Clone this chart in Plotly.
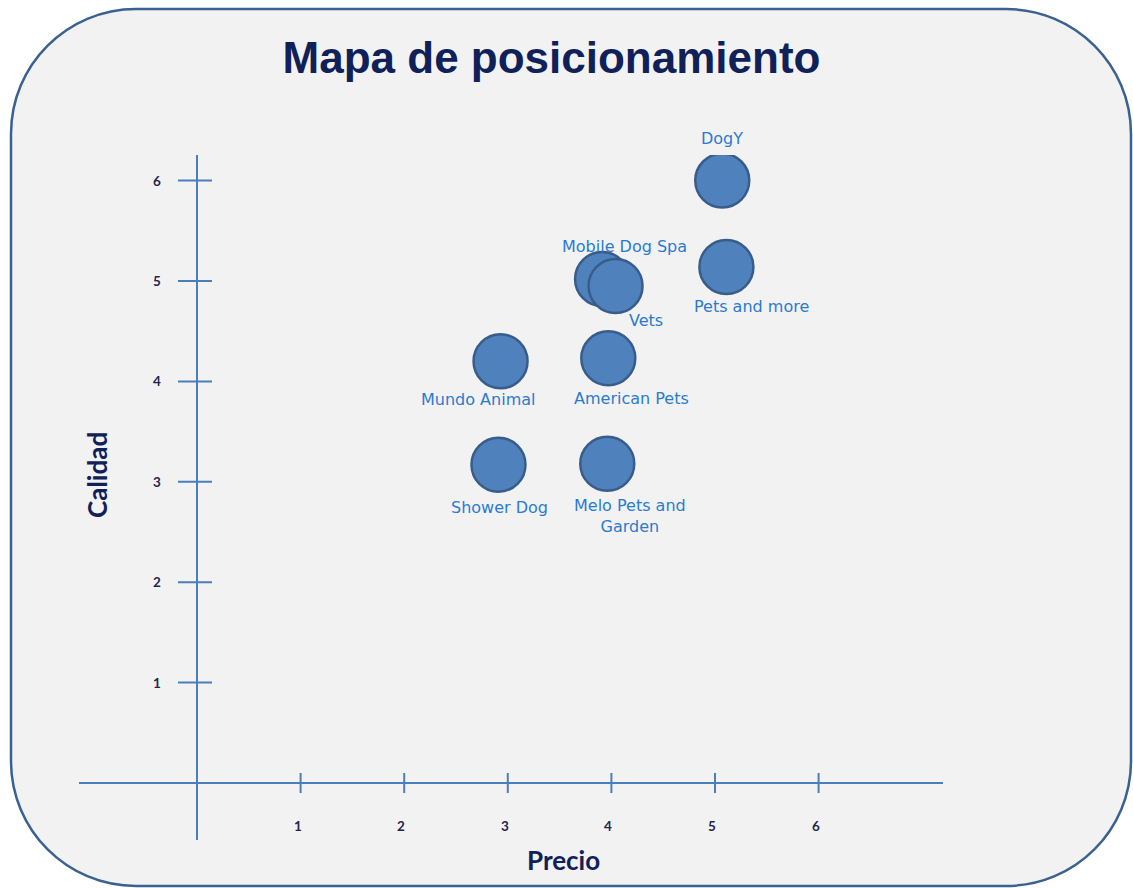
import plotly.graph_objects as go

# ---------------- data ----------------
marcas = ["DogY", "Pets and more", "Mobile Dog Spa", "Vets", "American Pets",
          "Mundo Animal", "Shower Dog", "Melo Pets and<br>Garden"]
precio = [5.07, 5.11, 3.91, 4.04, 3.97, 2.93, 2.91, 3.96]
calidad = [6.0, 5.14, 5.02, 4.95, 4.23, 4.20, 3.17, 3.18]
x_ticks = [1, 2, 3, 4, 5, 6]
y_ticks = [1, 2, 3, 4, 5, 6]

# label offsets (px) relative to each marker: style only
label_dx = [0, 25, 22, 30, 23, -23, 1, 23]
label_dy = [42, -40, 32, -34, -40, -38, -43, -52]

W, H = 1133, 888
ML, MR, MT, MB = 79, 190, 155, 48
X0PX, XSCALE = 197, 103.6
Y0PX, YSCALE = 783, 100.4

AXIS_COL = "#4A7EBB"
NAVY = "#10215A"
LABEL_COL = "#2B7BD0"

x_range = [-(X0PX - ML) / XSCALE, (W - MR - X0PX) / XSCALE]
y_range = [-(H - MB - Y0PX) / YSCALE, (Y0PX - MT) / YSCALE]

fig = go.Figure()
fig.add_trace(go.Scatter(
    x=precio, y=calidad, mode="markers",
    marker=dict(size=54, color="#4F81BD", line=dict(color="#385D8A", width=2.5)),
    hoverinfo="skip", showlegend=False,
))

# rounded rectangle background (pixel-sized path anchored on paper origin)
left, right = 11 - ML, 1131 - ML
top, bottom = (H - MB) - 9, (H - MB) - 886
r = 125
k = 0.5523 * r
path = (
    f"M {left + r},{top} L {right - r},{top} "
    f"C {right - r + k},{top} {right},{top - r + k} {right},{top - r} "
    f"L {right},{bottom + r} "
    f"C {right},{bottom + r - k} {right - r + k},{bottom} {right - r},{bottom} "
    f"L {left + r},{bottom} "
    f"C {left + r - k},{bottom} {left},{bottom + r - k} {left},{bottom + r} "
    f"L {left},{top - r} "
    f"C {left},{top - r + k} {left + r - k},{top} {left + r},{top} Z"
)
shapes = [dict(type="path", xref="paper", yref="paper", xsizemode="pixel", ysizemode="pixel",
               xanchor=0, yanchor=0, path=path, fillcolor="#F2F2F2",
               line=dict(color="#3A6190", width=2.5), layer="below")]

# tick marks crossing the axes
for t in x_ticks:
    shapes.append(dict(type="line", xref="x", yref="y", x0=t, x1=t,
                       y0=-10 / YSCALE, y1=10 / YSCALE,
                       line=dict(color=AXIS_COL, width=2)))
for t in y_ticks:
    shapes.append(dict(type="line", xref="x", yref="y", y0=t, y1=t,
                       x0=-19 / XSCALE, x1=15 / XSCALE,
                       line=dict(color=AXIS_COL, width=2)))

annotations = []
tick_font = dict(family="Lato, Open Sans, sans-serif", size=13.5, color="#1F2550")
for t in x_ticks:
    annotations.append(dict(x=t, y=0, xref="x", yref="y", text=f"<b>{t}</b>",
                            showarrow=False, yshift=-(826 - Y0PX), xshift=-3, font=tick_font))
for t in y_ticks:
    annotations.append(dict(x=0, y=t, xref="x", yref="y", text=f"<b>{t}</b>",
                            showarrow=False, xshift=-(X0PX - 157), font=tick_font))

for name, xv, yv, dx, dy in zip(marcas, precio, calidad, label_dx, label_dy):
    annotations.append(dict(x=xv, y=yv, xref="x", yref="y", text=name, showarrow=False,
                            xshift=dx, yshift=dy,
                            font=dict(family="DejaVu Sans, Verdana, sans-serif", size=16,
                                      color=LABEL_COL)))

axis_title_font = dict(family="Lato, Open Sans, sans-serif", size=26, color=NAVY)
annotations.append(dict(xref="paper", yref="paper", x=(97 - ML) / (W - ML - MR),
                        y=(H - MB - 475) / (H - MT - MB), text="<b>Calidad</b>",
                        xanchor="center", yanchor="middle",
                        textangle=-90, showarrow=False, font=axis_title_font))
annotations.append(dict(xref="paper", yref="paper", x=(563 - ML) / (W - ML - MR),
                        y=(H - MB - 860) / (H - MT - MB), text="<b>Precio</b>",
                        xanchor="center", yanchor="middle",
                        showarrow=False, font=axis_title_font))

axis_common = dict(showgrid=False, showticklabels=False, ticks="", showline=False,
                   zeroline=True, zerolinecolor=AXIS_COL, zerolinewidth=2, fixedrange=True)

fig.update_layout(
    width=W, height=H,
    margin=dict(l=ML, r=MR, t=MT, b=MB),
    paper_bgcolor="white", plot_bgcolor="rgba(0,0,0,0)",
    xaxis=dict(range=x_range, **axis_common),
    yaxis=dict(range=y_range, **axis_common),
    title=dict(text="<b>Mapa de posicionamiento</b>", x=551.5 / W, xanchor="center",
               y=1 - 58 / H, yanchor="middle",
               font=dict(family="Liberation Sans, Arial, sans-serif", size=44, color=NAVY)),
    shapes=shapes, annotations=annotations, showlegend=False, hovermode=False,
)

fig.write_html("out.html", config={"displayModeBar": False})
